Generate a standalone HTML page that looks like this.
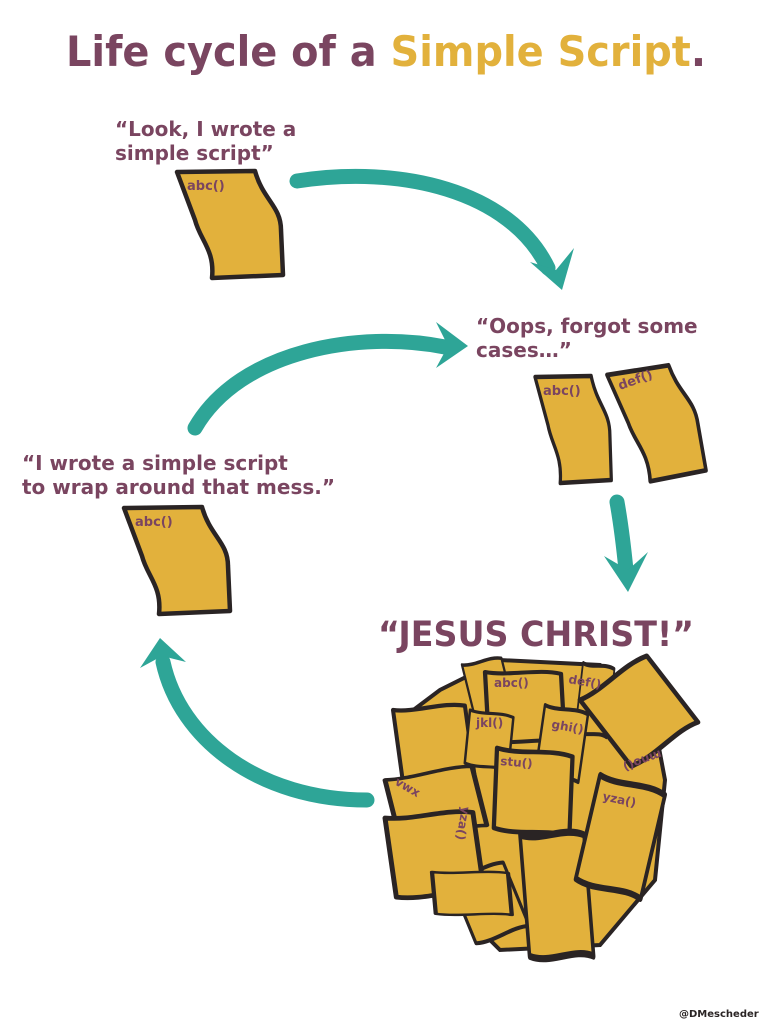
<!DOCTYPE html>
<html><head><meta charset="utf-8"><style>
html,body{margin:0;padding:0;background:#fff;}
svg{display:block;}
text{font-family:"DejaVu Sans","Liberation Sans",sans-serif;font-weight:bold;}
</style></head><body>
<svg width="768" height="1024" viewBox="0 0 768 1024" xmlns="http://www.w3.org/2000/svg">
<defs>
<path id="pp" d="M0,0 L78,-1 C86,28 104,34 104,58 L106,103 L35,106 C38,78 23,68 18,48 Z" fill="#e2b13c" stroke="#2a2424" stroke-width="4.5" stroke-linejoin="round"/>
<path id="sq" d="M0,0 C25,5 55,-4 80,2 L84,78 C60,72 30,82 4,76 Z" fill="#e2b13c" stroke="#2a2424" stroke-width="4.5" stroke-linejoin="round"/>
</defs>
<text x="66" y="66" font-size="42" fill="#7a4560" textLength="640" lengthAdjust="spacingAndGlyphs">Life cycle of a <tspan fill="#e2b13c">Simple Script</tspan>.</text>

<g fill="none" stroke="#2ea597" stroke-width="15" stroke-linecap="round">
<path d="M297,181 C400,165 510,190 548,268"/>
<path d="M195,428 C240,350 360,330 445,347"/>
<path d="M617,502 C622,530 624,550 626,570"/>
<path d="M367,800 C260,800 180,740 163,662"/>
</g>
<g fill="#2ea597">
<path d="M530,262 L562,290 L574,248 L556,270 Z"/>
<path d="M436,322 L468,346 L436,368 L448,346 Z"/>
<path d="M604,556 L628,592 L648,552 L628,570 Z"/>
<path d="M140,668 L160,638 L186,662 L162,656 Z"/>
</g>

<g fill="#7a4560" font-size="20">
<text x="115" y="136">“Look, I wrote a</text>
<text x="115" y="160">simple script”</text>
<text x="476" y="333">“Oops, forgot some</text>
<text x="476" y="357">cases…”</text>
<text x="22" y="470">“I wrote a simple script</text>
<text x="22" y="494">to wrap around that mess.”</text>
</g>
<text x="378" y="646" font-size="35" fill="#7a4560" textLength="316" lengthAdjust="spacingAndGlyphs">“JESUS CHRIST!”</text>
<text x="679" y="1017" font-size="10" fill="#2a2424">@DMescheder</text>

<g font-size="13" fill="#7a4560">
<use href="#pp" x="177" y="172"/><text x="187" y="190" fill="#7a4560">abc()</text>
<use href="#pp" x="124" y="508"/><text x="135" y="526" fill="#7a4560">abc()</text>
<g transform="translate(535,377)"><use href="#pp" transform="scale(0.72,1)"/></g>
<text x="543" y="395" fill="#7a4560">abc()</text>
<g transform="translate(607,375) rotate(-8)"><use href="#pp" transform="scale(0.8,1.05)"/></g>
<text x="620" y="390" fill="#7a4560" transform="rotate(-20 620 390)">def()</text>
</g>

<g>
<path d="M410,800 L430,880 L500,950 L600,945 L655,880 L665,780 L650,700 L600,665 L500,660 L440,690 L400,720 Z" fill="#e2b13c" stroke="#2a2424" stroke-width="4"/>
<g transform="translate(462,665) rotate(-12)"><use href="#sq" transform="scale(0.5,0.8)"/></g>
<g transform="translate(583,663) rotate(8)"><use href="#sq" transform="scale(0.4,0.9)"/></g>
<g transform="translate(393,710) rotate(-5)"><use href="#sq" transform="scale(0.9,0.95)"/></g>
<g transform="translate(485,672)"><use href="#sq" transform="scale(0.95,0.9)"/></g>
<g transform="translate(545,705) rotate(10)"><use href="#sq" transform="scale(0.55,0.9)"/></g>
<g transform="translate(580,700) rotate(-35)"><use href="#sq" transform="scale(1,1.1)"/></g>
<g transform="translate(470,710) rotate(8)"><use href="#sq" transform="scale(0.55,0.7)"/></g>
<g transform="translate(385,780) rotate(-10)"><use href="#sq" transform="scale(1.1,0.8)"/></g>
<g transform="translate(450,880) rotate(-20)"><use href="#sq" transform="scale(0.7,0.9)"/></g>
<g transform="translate(385,818) rotate(-5)"><use href="#sq" transform="scale(1.1,1.05)"/></g>
<g transform="translate(432,872)"><use href="#sq" transform="scale(0.95,0.55)"/></g>
<g transform="translate(497,748) rotate(5)"><use href="#sq" transform="scale(0.95,1.05)"/></g>
<g transform="translate(520,835) rotate(-3)"><use href="#sq" transform="scale(0.8,1.6)"/></g>
<g transform="translate(600,775) rotate(15)"><use href="#sq" transform="scale(0.85,1.4)"/></g>
</g>
<g font-size="12" fill="#7a4560">
<text x="494" y="687">abc()</text>
<text x="568" y="683" transform="rotate(10 568 683)">def()</text>
<text x="476" y="727">jkl()</text>
<text x="551" y="728" transform="rotate(10 551 728)">ghi()</text>
<text x="500" y="765" transform="rotate(5 500 765)">stu()</text>
<text x="602" y="800" transform="rotate(12 602 800)">yza()</text>
<text x="660" y="750" transform="rotate(160 660 750)">mno()</text>
<text x="462" y="806" transform="rotate(100 462 806)">yza()</text>
<text x="394" y="784" transform="rotate(30 394 784)">vwx</text>
</g>
</svg>
</body></html>
